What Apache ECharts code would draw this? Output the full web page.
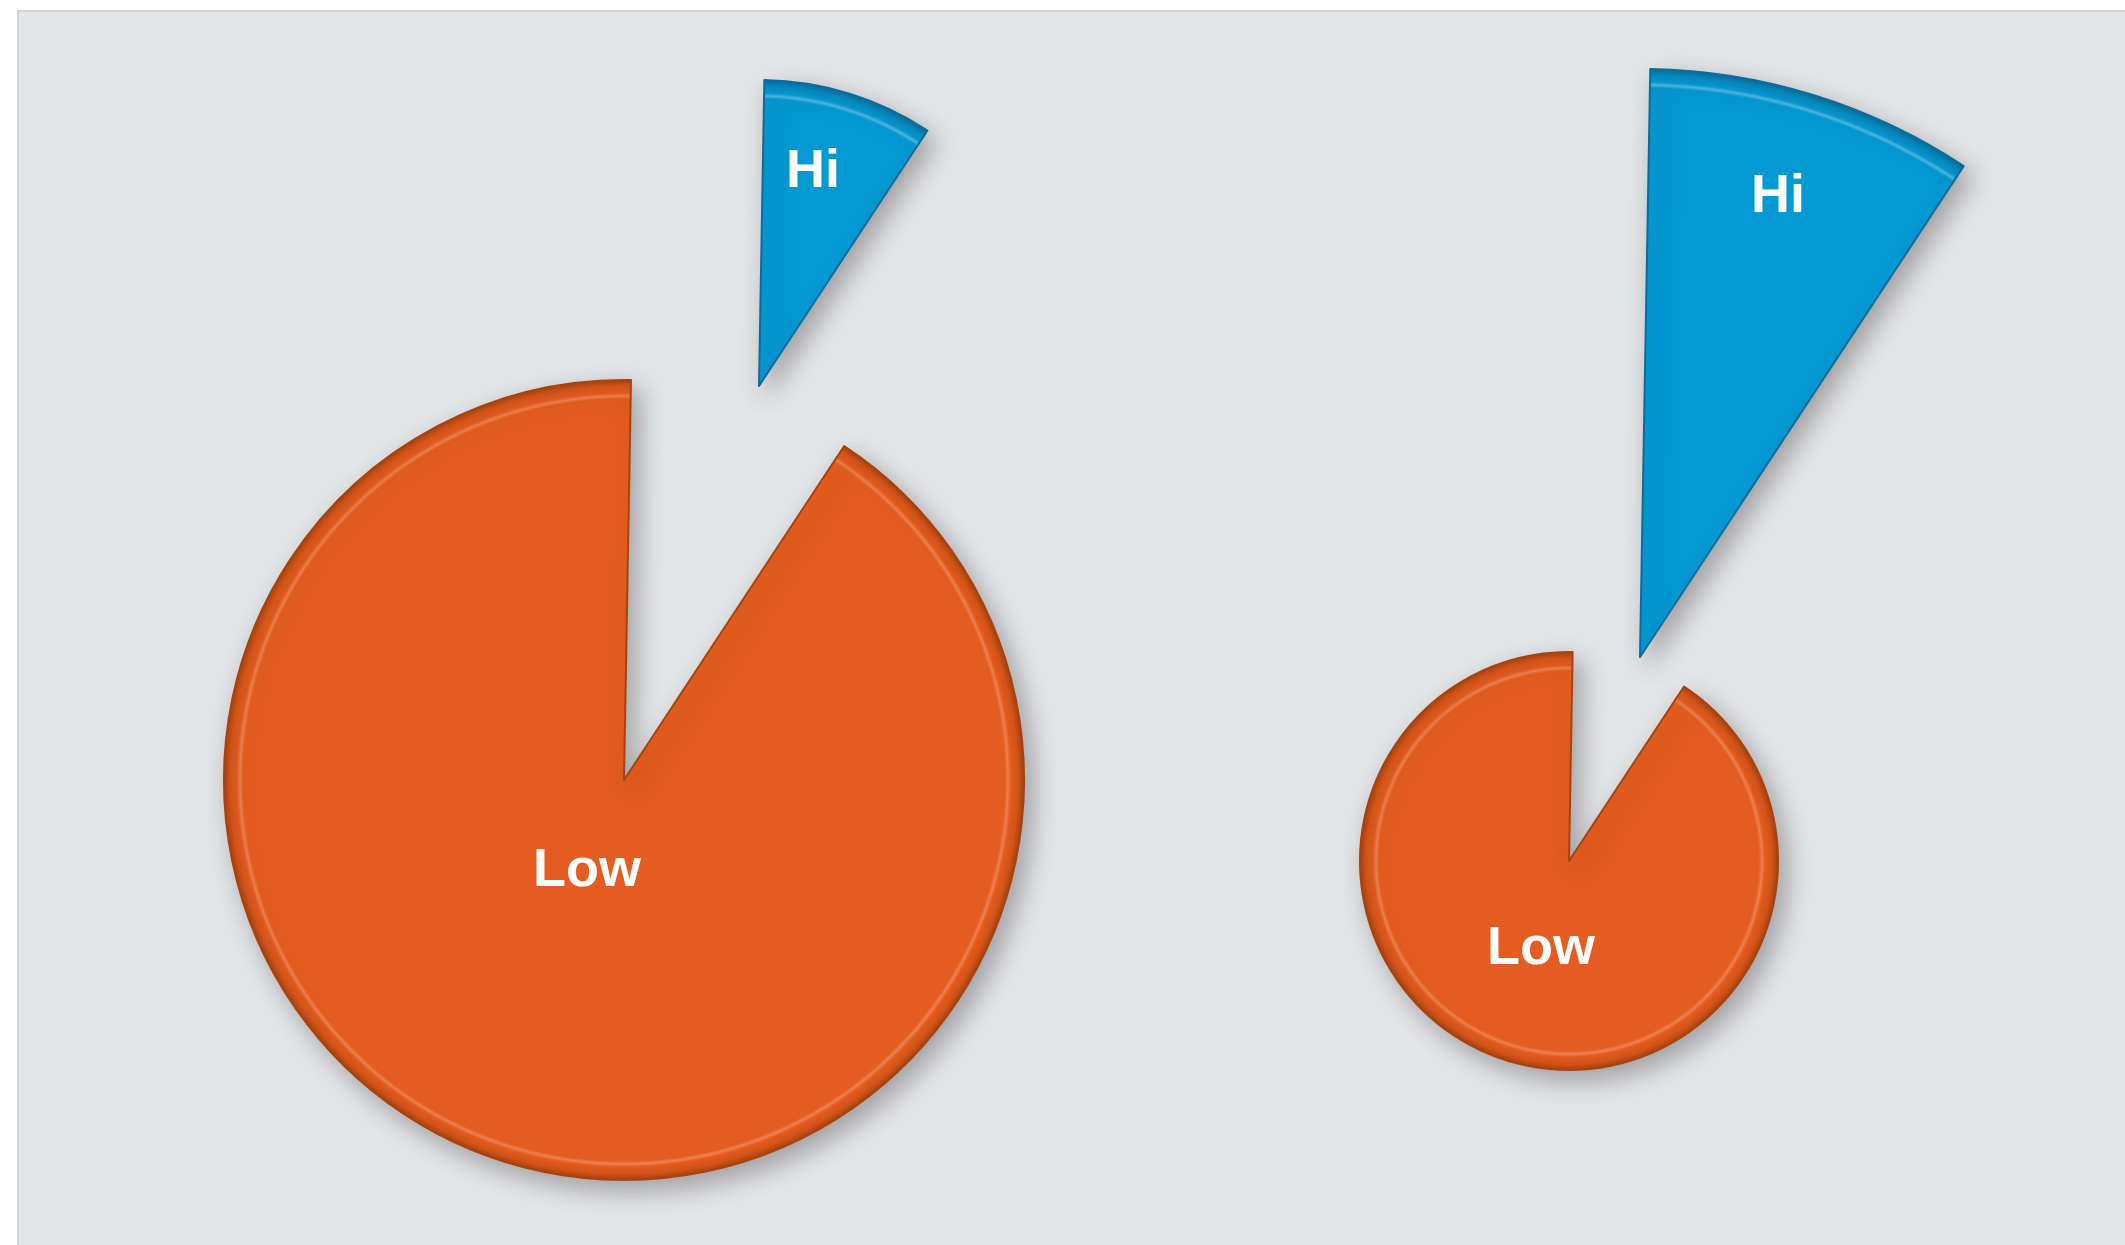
<!DOCTYPE html>
<html>
<head>
<meta charset="utf-8">
<style>
  html, body { margin: 0; padding: 0; background: #ffffff; }
  #chart { width: 2125px; height: 1245px; }
</style>
<script src="https://cdn.jsdelivr.net/npm/echarts@6/dist/echarts.min.js"></script>
</head>
<body>
<div id="chart"></div>
<script>
// ---- data ----
const categories = ['Hi', 'Low'];
const leftPieValues = [9, 91];
const rightPieValues = [9, 91];

// ---- layout (pixels) ----
const geo = {
  leftLow:  { c: [624, 780],  r: 400, label: [-37, 91] },
  leftHi:   { c: [759, 386],  r: 306, label: [54, -214] },
  rightLow: { c: [1569, 861], r: 209, label: [-28, 88] },
  rightHi:  { c: [1640, 657], r: 588, label: [138, -460] }
};

const palette = {
  Low: { base: '#e45c1f', light: '#ee8050', mid: '#d45419', dark: '#a8420e', border: '#a8420e' },
  Hi:  { base: '#0598d2', light: '#4fb6e4', mid: '#0789be', dark: '#086b9b', border: '#0a6c9c' }
};

function bevel(g, p) {
  const r = g.r;
  const s = px => Math.max(0, 1 - px / r);
  return {
    type: 'radial', x: g.c[0], y: g.c[1], r: r, global: true,
    colorStops: [
      { offset: 0, color: p.base },
      { offset: s(19), color: p.base },
      { offset: s(16), color: p.light },
      { offset: s(13), color: p.base },
      { offset: s(6), color: p.mid },
      { offset: 1, color: p.dark }
    ]
  };
}

function slicePie(values, showName, g) {
  const p = palette[showName];
  return {
    type: 'pie',
    center: g.c,
    radius: g.r,
    startAngle: 89,
    clockwise: true,
    avoidLabelOverlap: false,
    silent: true,
    animation: false,
    labelLine: { show: false },
    labelLayout: { dx: g.label[0], dy: g.label[1] },
    emphasis: { disabled: true },
    data: categories.map((name, i) => {
      const visible = name === showName;
      return {
        name: name,
        value: values[i],
        itemStyle: visible ? {
          color: bevel(g, p),
          borderColor: p.border,
          borderWidth: 2,
          shadowBlur: 26,
          shadowOffsetX: 8,
          shadowOffsetY: 10,
          shadowColor: 'rgba(0,0,0,0.30)'
        } : {
          color: 'rgba(0,0,0,0)', borderWidth: 0, shadowBlur: 0, shadowColor: 'rgba(0,0,0,0)'
        },
        label: visible ? {
          show: true, position: 'center', formatter: '{b}',
          color: '#ffffff', fontSize: 54, fontWeight: 'bold',
          fontFamily: '"Liberation Sans", Arial, sans-serif'
        } : { show: false }
      };
    })
  };
}

const chart = echarts.init(document.getElementById('chart'), null, { renderer: 'canvas' });
chart.setOption({
  backgroundColor: '#ffffff',
  animation: false,
  graphic: [{
    type: 'rect', z: -10, silent: true,
    shape: { x: 18, y: 11, width: 2125 - 18 + 4, height: 1245 - 11 + 4 },
    style: { fill: '#e4e5e7', stroke: '#d4d5d7', lineWidth: 2 }
  }],
  series: [
    slicePie(leftPieValues, 'Low', geo.leftLow),
    slicePie(leftPieValues, 'Hi', geo.leftHi),
    slicePie(rightPieValues, 'Low', geo.rightLow),
    slicePie(rightPieValues, 'Hi', geo.rightHi)
  ]
});
</script>
</body>
</html>
